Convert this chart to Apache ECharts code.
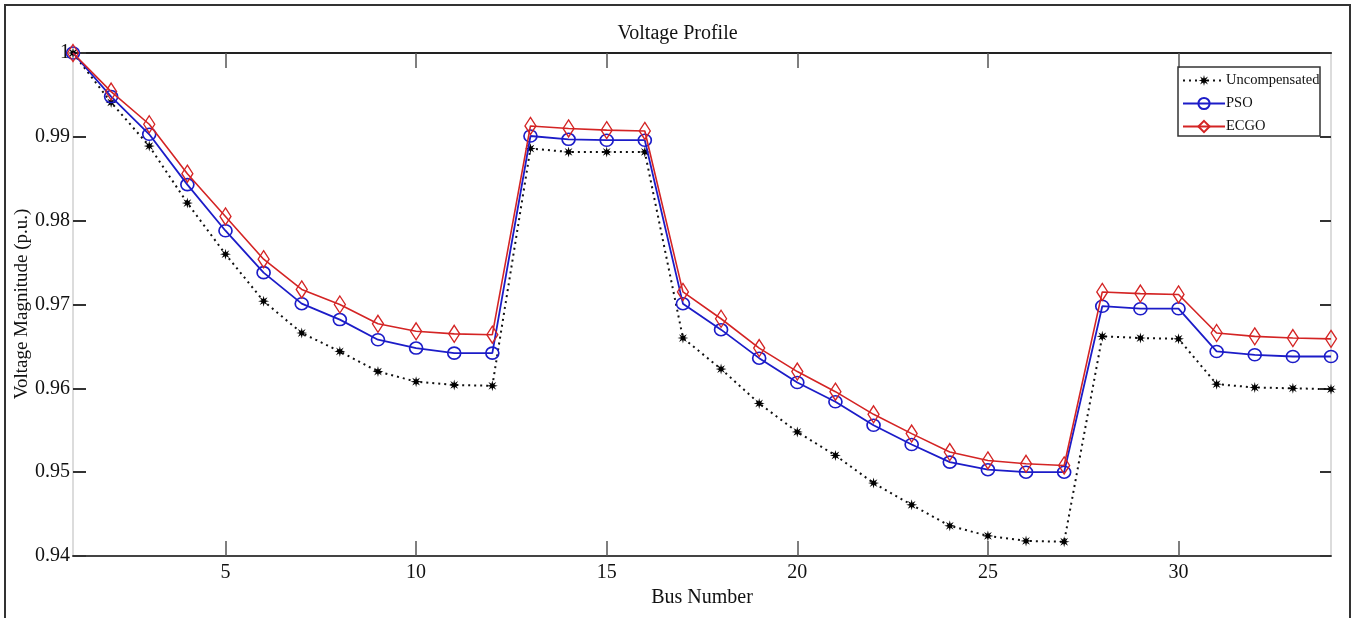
<!DOCTYPE html>
<html>
<head>
<meta charset="utf-8">
<script src="https://cdn.jsdelivr.net/npm/echarts@6/dist/echarts.min.js"></script>
<style>
html,body{margin:0;padding:0;background:#fff;}
#chart{width:1355px;height:618px;}
</style>
</head>
<body>
<div id="chart"></div>
<script>
const buses = [1,2,3,4,5,6,7,8,9,10,11,12,13,14,15,16,17,18,19,20,21,22,23,24,25,26,27,28,29,30,31,32,33,34];
const uncompensated = [1.0000,0.9941,0.9889,0.9821,0.9760,0.9704,0.9666,0.9644,0.9620,0.9608,0.9604,0.9603,0.9886,0.9882,0.9882,0.9882,0.9660,0.9623,0.9582,0.9548,0.9520,0.9487,0.9461,0.9436,0.9424,0.9418,0.9417,0.9662,0.9660,0.9659,0.9605,0.9601,0.9600,0.9599];
const pso = [1.0000,0.9948,0.9903,0.9843,0.9788,0.9738,0.9701,0.9682,0.9658,0.9648,0.9642,0.9642,0.9901,0.9897,0.9896,0.9896,0.9701,0.9670,0.9636,0.9607,0.9584,0.9556,0.9533,0.9512,0.9503,0.9500,0.9500,0.9698,0.9695,0.9695,0.9644,0.9640,0.9638,0.9638];
const ecgo = [1.0000,0.9954,0.9915,0.9856,0.9805,0.9754,0.9718,0.9700,0.9677,0.9668,0.9665,0.9664,0.9913,0.9910,0.9908,0.9907,0.9715,0.9683,0.9648,0.9620,0.9596,0.9569,0.9546,0.9524,0.9514,0.9510,0.9508,0.9715,0.9713,0.9712,0.9666,0.9662,0.9660,0.9659];
const xTicks = [5,10,15,20,25,30];
const seriesNames = ['Uncompensated','PSO','ECGO'];
const yAxisTitle = 'Voltage Magnitude (p.u.)';

const FONT = '"Liberation Serif", "DejaVu Serif", serif';

// 8-point star marker path
function starPath(){
  let p = '';
  const n = 8, ro = 10, ri = 4;
  for (let i = 0; i < n*2; i++){
    const r = i % 2 === 0 ? ro : ri;
    const a = Math.PI * i / n - Math.PI/2;
    const x = (10 + r*Math.cos(a)).toFixed(2);
    const y = (10 + r*Math.sin(a)).toFixed(2);
    p += (i === 0 ? 'M' : 'L') + x + ' ' + y + ' ';
  }
  return 'path://' + p + 'Z';
}

function pairs(vals){ return buses.map((b,i)=>[b, vals[i]]); }

const chart = echarts.init(document.getElementById('chart'), null, {renderer:'canvas'});
chart.setOption({
  animation:false,
  backgroundColor:'#fff',
  textStyle:{fontFamily:FONT},
  title:{
    text:'Voltage Profile', left:'center', top:19,
    textStyle:{fontFamily:FONT, fontSize:20, fontWeight:'normal', color:'#111'}
  },
  grid:{left:73, right:24, top:53, bottom:62, containLabel:false, outerBoundsMode:'none'},
  legend:{
    orient:'vertical', left:1180, top:71,
    itemWidth:42, itemHeight:14, itemGap:8,
    data:seriesNames,
    textStyle:{fontFamily:FONT, fontSize:14.5, color:'#111', padding:[0,0,0,-4]},
    padding:[2,4,2,2]
  },
  graphic:[
    {type:'rect', shape:{x:5,y:5,width:1345,height:620}, style:{fill:'none', stroke:'#333', lineWidth:2}, silent:true, z:100},
    {type:'rect', shape:{x:1178,y:67,width:142,height:69}, style:{fill:'none', stroke:'#333', lineWidth:1.5}, silent:true, z:100},
    {type:'polyline', shape:{points:[[1320,137],[1330,137]]}, style:{stroke:'#333', lineWidth:1.5}, silent:true, z:100},
    {type:'text', x:22, y:304, rotation:Math.PI/2, silent:true, z:100,
      style:{text:yAxisTitle, align:'center', verticalAlign:'middle', fill:'#111',
        font:'19px "Liberation Serif", "DejaVu Serif", serif'}}
  ],
  xAxis:[
    {
      type:'value', min:1, max:34, position:'bottom',
      name:'Bus Number', nameLocation:'middle', nameGap:28,
      nameTextStyle:{fontFamily:FONT, fontSize:20, color:'#111'},
      axisLine:{show:true, onZero:false, lineStyle:{color:'#444', width:2}},
      axisTick:{show:true, inside:true, length:15, customValues:xTicks, lineStyle:{color:'#555', width:1.5}},
      axisLabel:{show:true, customValues:xTicks, margin:7, fontFamily:FONT, fontSize:20, color:'#111'},
      splitLine:{show:false}
    },
    {
      type:'value', min:1, max:34, position:'top',
      axisLine:{show:true, onZero:false, lineStyle:{color:'#222', width:2}},
      axisTick:{show:true, inside:true, length:15, customValues:xTicks, lineStyle:{color:'#555', width:1.5}},
      axisLabel:{show:false},
      splitLine:{show:false}
    }
  ],
  yAxis:[
    {
      type:'value', min:0.94, max:1, interval:0.01, position:'left',
      axisLine:{show:true, onZero:false, lineStyle:{color:'#d0d0d0', width:1.5}},
      axisTick:{show:true, inside:true, length:13, lineStyle:{color:'#333', width:2}},
      axisLabel:{show:true, margin:3, fontFamily:FONT, fontSize:20, color:'#111',
        formatter:function(v){ return String(Math.round(v*100)/100); }},
      splitLine:{show:false}
    },
    {
      type:'value', min:0.94, max:1, interval:0.01, position:'right',
      axisLine:{show:true, onZero:false, lineStyle:{color:'#d0d0d0', width:1.5}},
      axisTick:{show:true, inside:true, length:11, lineStyle:{color:'#333', width:2}},
      axisLabel:{show:false},
      splitLine:{show:false}
    }
  ],
  series:[
    {
      name:seriesNames[0], type:'line', data:pairs(uncompensated),
      symbol:starPath(), symbolSize:11, showAllSymbol:true,
      itemStyle:{color:'#000'},
      lineStyle:{color:'#111', width:2, type:[2,4]},
      z:2
    },
    {
      name:seriesNames[1], type:'line', data:pairs(pso),
      symbol:'circle', symbolSize:[13,12], showAllSymbol:true,
      itemStyle:{color:'rgba(255,255,255,0)', borderColor:'#1c1cc8', borderWidth:1.6},
      lineStyle:{color:'#1c1cc8', width:1.8},
      z:3
    },
    {
      name:seriesNames[2], type:'line', data:pairs(ecgo),
      symbol:'diamond', symbolSize:[11,17], showAllSymbol:true,
      itemStyle:{color:'rgba(255,255,255,0)', borderColor:'#d42424', borderWidth:1.4},
      lineStyle:{color:'#d42424', width:1.6},
      z:4
    }
  ]
});
</script>
</body>
</html>
